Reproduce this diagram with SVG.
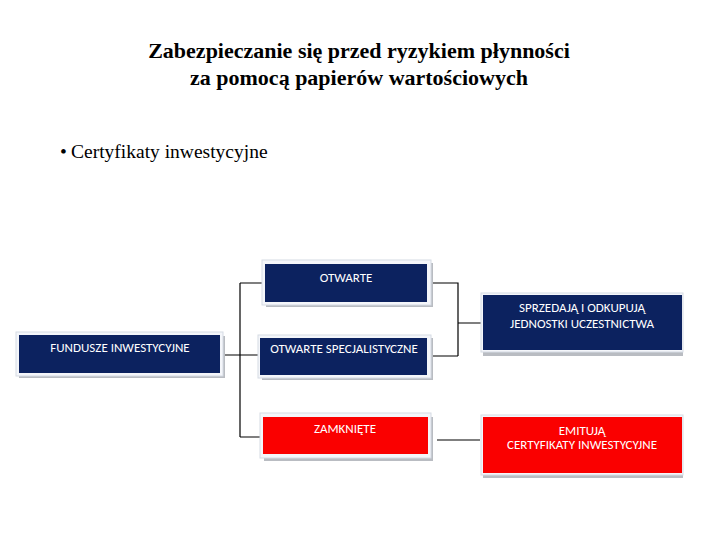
<svg xmlns="http://www.w3.org/2000/svg" width="720" height="540" viewBox="0 0 720 540">
<style>
.title{font-family:"Liberation Serif","Times New Roman",serif;font-weight:bold;font-size:22px;fill:#000;text-anchor:middle}
.bullet{font-family:"Liberation Serif","Times New Roman",serif;font-size:19.5px;fill:#000}
.lbl{font-family:"Carlito","Liberation Sans",Arial,sans-serif;font-size:13px;fill:#fff;text-anchor:middle}
.navy{fill:#0c225f}
.red{fill:#fa0000}
.frame{fill:#f4f6fa;stroke:#d6dbe4;stroke-width:1}
.shadow{fill:#b9bcc2}
.conn{stroke:#000;stroke-width:1.2;fill:none}
</style>
<text class="title" x="359" y="58">Zabezpieczanie się przed ryzykiem płynności</text>
<text class="title" x="359" y="85">za pomocą papierów wartościowych</text>
<text class="bullet" x="60" y="158">•</text>
<text class="bullet" x="71" y="158">Certyfikaty inwestycyjne</text>

<g id="connectors">
<path class="conn" d="M222 355 H240 M240 283 V437 M240 283 H263 M240 355 H259 M240 437 H261"/>
<path class="conn" d="M432 283 H458 V356 M432 356 H458 M458 323 H482"/>
<path class="conn" d="M437 440 H480"/>
</g>

<g id="fundusze">
<rect class="shadow" x="19" y="336" width="206" height="42"/>
<rect class="frame" x="16" y="332" width="207" height="44"/>
<rect class="navy" x="19" y="335" width="201" height="38"/>
<text class="lbl" x="120" y="352">FUNDUSZE INWESTYCYJNE</text>
</g>

<g id="otwarte">
<rect class="shadow" x="266" y="263" width="167" height="44"/>
<rect class="frame" x="262" y="260" width="169" height="45"/>
<rect class="navy" x="265" y="264" width="162" height="38"/>
<text class="lbl" x="346" y="282">OTWARTE</text>
</g>

<g id="otwarte-spec">
<rect class="shadow" x="262" y="338" width="171" height="42"/>
<rect class="frame" x="258" y="335" width="173" height="43"/>
<rect class="navy" x="260" y="338" width="167" height="37"/>
<text class="lbl" x="344" y="353">OTWARTE SPECJALISTYCZNE</text>
</g>

<g id="zamkniete">
<rect class="shadow" x="264" y="417" width="169" height="44"/>
<rect class="frame" x="260" y="413" width="171" height="45"/>
<rect class="red" x="263" y="417" width="165" height="37"/>
<text class="lbl" x="345" y="433">ZAMKNIĘTE</text>
</g>

<g id="sprzedaja">
<rect class="shadow" x="483" y="298" width="200" height="58"/>
<rect class="frame" x="481" y="293" width="202" height="59"/>
<rect class="navy" x="483" y="295" width="199" height="55"/>
<text class="lbl" x="582" y="312">SPRZEDAJĄ I ODKUPUJĄ</text>
<text class="lbl" x="582" y="328">JEDNOSTKI UCZESTNICTWA</text>
</g>

<g id="emituja">
<rect class="shadow" x="483" y="420" width="200" height="58"/>
<rect class="frame" x="481" y="415" width="202" height="60"/>
<rect class="red" x="483" y="417" width="199" height="56"/>
<text class="lbl" x="582" y="435">EMITUJĄ</text>
<text class="lbl" x="582" y="449">CERTYFIKATY INWESTYCYJNE</text>
</g>
</svg>
